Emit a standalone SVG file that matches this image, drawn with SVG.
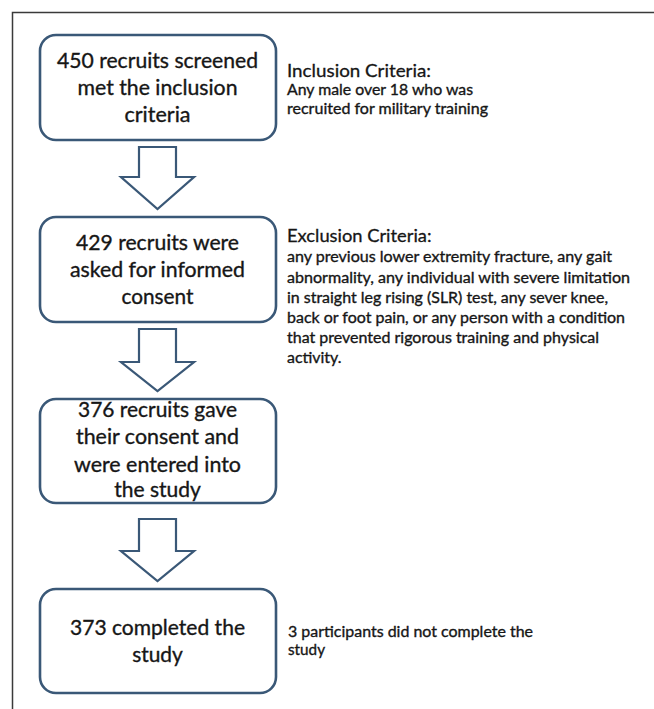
<svg xmlns="http://www.w3.org/2000/svg" width="654" height="709" viewBox="0 0 654 709">
<style>
.box{fill:#ffffff;stroke:#3a5877;stroke-width:2.6}
.arr{fill:#ffffff;stroke:#3a5877;stroke-width:2.2;stroke-linejoin:miter}
.bt{font-family:Lato,"Open Sans","Liberation Sans",sans-serif;font-size:21px;fill:#161616;stroke:#161616;stroke-width:0.35;text-anchor:middle}
.hd{font-family:Lato,"Open Sans","Liberation Sans",sans-serif;font-size:18px;fill:#161616;stroke:#161616;stroke-width:0.3}
.tx{font-family:Lato,"Open Sans","Liberation Sans",sans-serif;font-size:15.6px;fill:#161616;stroke:#161616;stroke-width:0.35}
.frame{fill:none;stroke:#3a3a3a;stroke-width:1.5}
</style>
<rect width="654" height="709" fill="#ffffff"/>
<path class="frame" d="M12.5,709 V12.5 H654"/>
<g id="connectors">
<polygon class="arr" points="139,147 176,147 176,177 194,177 157.5,209 121,177 139,177"/>
<polygon class="arr" points="139,329 176,329 176,362 194,362 157.5,391 121,362 139,362"/>
<polygon class="arr" points="139,519 176,519 176,551 194,551 157.5,581 121,551 139,551"/>
</g>
<g id="node1">
<rect class="box" x="40" y="35" width="236" height="105" rx="16"/>
<text class="bt" x="157.5" y="68.3" textLength="201" lengthAdjust="spacingAndGlyphs">450 recruits screened</text>
<text class="bt" x="157.5" y="95" textLength="160" lengthAdjust="spacingAndGlyphs">met the inclusion</text>
<text class="bt" x="157.5" y="121.7" textLength="66" lengthAdjust="spacingAndGlyphs">criteria</text>
</g>
<g id="node2">
<rect class="box" x="40" y="217" width="236" height="105" rx="16"/>
<text class="bt" x="157.5" y="250" textLength="163" lengthAdjust="spacingAndGlyphs">429 recruits were</text>
<text class="bt" x="157.5" y="277.3" textLength="175" lengthAdjust="spacingAndGlyphs">asked for informed</text>
<text class="bt" x="157.5" y="304" textLength="72" lengthAdjust="spacingAndGlyphs">consent</text>
</g>
<g id="node3">
<rect class="box" x="40" y="399" width="236" height="104" rx="16"/>
<text class="bt" x="157.5" y="417.3" textLength="159" lengthAdjust="spacingAndGlyphs">376 recruits gave</text>
<text class="bt" x="157.5" y="444" textLength="163" lengthAdjust="spacingAndGlyphs">their consent and</text>
<text class="bt" x="157.5" y="471.7" textLength="167" lengthAdjust="spacingAndGlyphs">were entered into</text>
<text class="bt" x="157.5" y="497.3" textLength="86.6" lengthAdjust="spacingAndGlyphs">the study</text>
</g>
<g id="node4">
<rect class="box" x="40" y="589" width="236" height="104" rx="16"/>
<text class="bt" x="157.5" y="635" textLength="175" lengthAdjust="spacingAndGlyphs">373 completed the</text>
<text class="bt" x="157.5" y="661.7" textLength="50.6" lengthAdjust="spacingAndGlyphs">study</text>
</g>
<g id="inclusion">
<text class="hd" x="287" y="77.3" textLength="144" lengthAdjust="spacingAndGlyphs">Inclusion Criteria:</text>
<text class="tx" x="287" y="95" textLength="186" lengthAdjust="spacingAndGlyphs">Any male over 18 who was</text>
<text class="tx" x="287" y="113.5" textLength="201" lengthAdjust="spacingAndGlyphs">recruited for military training</text>
</g>
<g id="exclusion">
<text class="hd" x="287" y="241.7" textLength="144.5" lengthAdjust="spacingAndGlyphs">Exclusion Criteria:</text>
<text class="tx" x="287" y="261.7" textLength="325" lengthAdjust="spacingAndGlyphs">any previous lower extremity fracture, any gait</text>
<text class="tx" x="287" y="282.7" textLength="343" lengthAdjust="spacingAndGlyphs">abnormality, any individual with severe limitation</text>
<text class="tx" x="287" y="302.7" textLength="321" lengthAdjust="spacingAndGlyphs">in straight leg rising (SLR) test, any sever knee,</text>
<text class="tx" x="287" y="322.7" textLength="338" lengthAdjust="spacingAndGlyphs">back or foot pain, or any person with a condition</text>
<text class="tx" x="287" y="342.7" textLength="312" lengthAdjust="spacingAndGlyphs">that prevented rigorous training and physical</text>
<text class="tx" x="287" y="362.7" textLength="54.5" lengthAdjust="spacingAndGlyphs">activity.</text>
</g>
<g id="dropout">
<text class="tx" x="288" y="636.7" textLength="245" lengthAdjust="spacingAndGlyphs">3 participants did not complete the</text>
<text class="tx" x="288" y="655" textLength="37" lengthAdjust="spacingAndGlyphs">study</text>
</g>
</svg>
